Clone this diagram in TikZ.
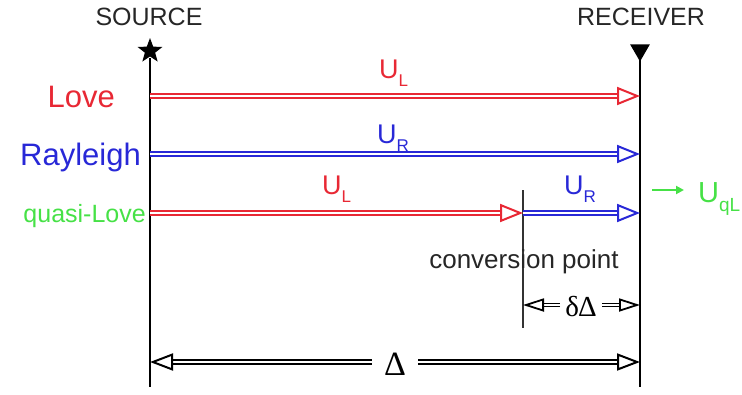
\documentclass[tikz,border=0pt]{standalone}
\usepackage{fontspec}
\setmainfont{Liberation Sans}
\newfontfamily\seriffont{Liberation Serif}
\usetikzlibrary{arrows.meta,shapes.geometric}
\definecolor{lred}{RGB}{232,40,52}
\definecolor{lblue}{RGB}{40,40,215}
\definecolor{lgreen}{RGB}{70,225,70}
\newcommand{\fs}[1]{\fontsize{#1}{#1}\selectfont}
\newcommand{\subU}[1]{U\raisebox{-0.32em}{\fs{17}#1}}
\begin{document}
\begin{tikzpicture}[x=1pt,y=-1pt,
  wave/.style={double=white, double distance=1.8pt, line width=1.7pt,
    -{Triangle[open,length=23pt,width=18pt,line width=2pt]}},
  dimarrow/.style={double=white, double distance=1.8pt, line width=1.7pt, draw=black,
    -{Triangle[open,length=23pt,width=17pt,line width=2pt]}},
  smalldim/.style={double=white, double distance=1.6pt, line width=1.6pt, draw=black,
    -{Triangle[open,length=21pt,width=13pt,line width=1.8pt]}},
  lbl/.style={inner sep=0pt, font=\fs{31}},
  ulab/.style={inner sep=0pt, anchor=base west, font=\fs{27}},
  endlbl/.style={inner sep=0pt, font=\fs{25}, text=black!85},
  vline/.style={draw=black, line width=2.4pt}
]
\useasboundingbox (0,0) rectangle (742,394);
\clip (0,0) rectangle (742,394);

% source and receiver
\node[endlbl, anchor=base] (srctxt) at (149,25) {SOURCE};
\node[endlbl, anchor=base] (rcvtxt) at (641,25) {RECEIVER};
\node[star, star points=5, star point ratio=2.4, fill=black, inner sep=0pt, minimum size=26pt] (star) at (150,51) {};
\node[regular polygon, regular polygon sides=3, shape border rotate=180, fill=black, inner sep=0pt, minimum size=23pt] (tri) at (640,50) {};

\coordinate (s0) at (150,58);
\coordinate (s1) at (150,387);
\coordinate (r0) at (640,56);
\coordinate (r1) at (640,387);
\draw[vline, line width=2.2pt] (s0) -- (s1);
\draw[vline] (r0) -- (r1);

% conversion point line
\coordinate (c0) at (523,190);
\coordinate (c1) at (523,328);
\draw[draw=black!80, line width=1.8pt] (c0) -- (c1);

% wave arrows
\coordinate (sL) at (150,96);  \coordinate (rL) at (640,96);
\coordinate (sR) at (150,154); \coordinate (rR) at (640,154);
\coordinate (sQ) at (150,213); \coordinate (cQ) at (523,213); \coordinate (rQ) at (640,213);
\draw[wave, draw=lred] (sL) -- (rL);
\draw[wave, draw=lblue] (sR) -- (rR);
\draw[wave, draw=lred] (sQ) -- (cQ);
\draw[wave, draw=lblue] (cQ) -- (rQ);

% left labels
\node[lbl, anchor=base east, text=lred] (love) at (115,107) {Love};
\node[lbl, anchor=base east, text=lblue] (ray) at (141,165) {Rayleigh};
\node[lbl, anchor=base east, text=lgreen, font=\fs{25}] (qlove) at (146,222) {quasi-Love};

% velocity labels
\node[ulab, text=lred] (ul1) at (379,78) {\subU{L}};
\node[ulab, text=lblue] (ur1) at (377,143) {\subU{R}};
\node[ulab, text=lred] (ul2) at (322,194) {\subU{L}};
\node[ulab, text=lblue] (ur2) at (564,194) {\subU{R}};

% U_qL
\coordinate (g0) at (652,190);
\coordinate (g1) at (684,190);
\draw[draw=lgreen, line width=2.2pt, -{Triangle[length=8pt,width=8pt]}] (g0) -- (g1);
\node[ulab, text=lgreen, font=\fs{29}] (uql) at (698,202) {U\raisebox{-0.32em}{\fs{19}qL}};

% conversion point text
\node[inner sep=0pt, font=\fs{26}, text=black!85] (conv) at (524,262) {conversion point};

% delta delta
\node[inner sep=0pt, font=\seriffont\fs{29}] (dd) at (581,307) {δ\kern-1ptΔ};
\coordinate (ddL) at (523,305);
\coordinate (ddR) at (640,305);
\draw[smalldim] ([xshift=-5pt]dd.west |- ddL) -- (ddL);
\draw[smalldim] ([xshift=5pt]dd.east |- ddR) -- (ddR);

% Delta
\node[inner sep=0pt, font=\seriffont\fs{34}] (dl) at (395,364) {Δ};
\coordinate (dlL) at (150,362);
\coordinate (dlR) at (640,362);
\draw[dimarrow] ([xshift=-12pt]dl.west |- dlL) -- (dlL);
\draw[dimarrow] ([xshift=12pt]dl.east |- dlR) -- (dlR);
\end{tikzpicture}
\end{document}
